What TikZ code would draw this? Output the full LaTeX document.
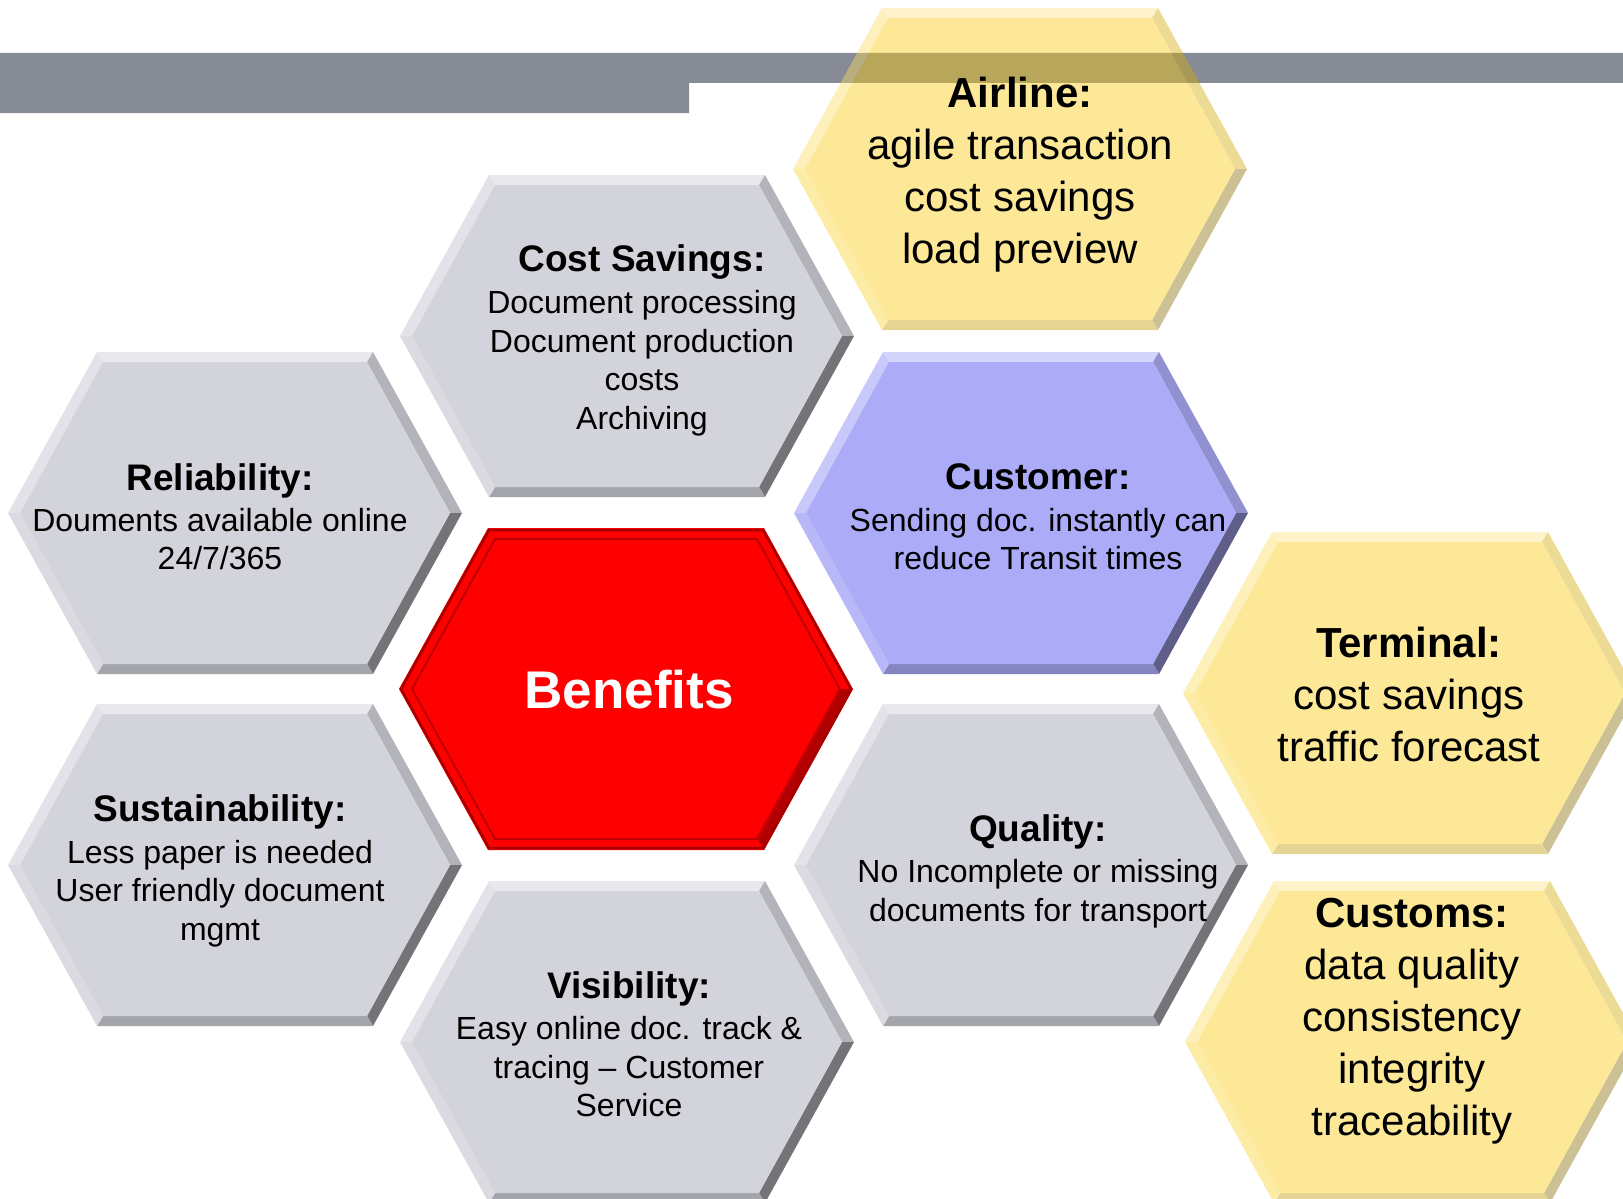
\documentclass[tikz,border=0pt]{standalone}
\usepackage{fontspec}
\setmainfont{Liberation Sans}
\definecolor{barGray}{RGB}{135,139,150}
\definecolor{cellGray}{RGB}{211,211,219}
\definecolor{cellBlue}{RGB}{171,171,247}
\definecolor{cellRed}{RGB}{255,0,0}
\definecolor{cellGold}{RGB}{249,202,12}
\tikzset{
  cell/.style={align=center, inner sep=0pt, font=\fontsize{32}{38.5}\selectfont},
  bigcell/.style={align=center, inner sep=0pt, font=\fontsize{42}{52}\selectfont},
}
\newcommand{\celltitle}[1]{{\fontsize{37}{42}\selectfont\bfseries #1}}
\begin{document}
\begin{tikzpicture}[x=1pt,y=-1pt]
\useasboundingbox (0,0) rectangle (1623,1199);
\clip (0,0) rectangle (1623,1199);
\fill[barGray] (0,53) -- (1623,53) -- (1623,83) -- (689,83) -- (689,113) -- (0,113) -- cycle;
\foreach \cx/\cy/\c/\op in {235/513/cellGray/1, 235/865/cellGray/1, 627/336/cellGray/1,
    627/1042/cellGray/1, 1020/169/cellGold/0.43, 1021/513/cellBlue/1,
    1021/865/cellGray/1, 1410/693/cellGold/0.43, 1412/1042/cellGold/0.43}
{
  \begin{scope}[shift={(\cx,\cy)}, transparency group, opacity=\op]
    \fill[\c!50!white] (-138,-161) -- (138,-161) -- (132,-151) -- (-132,-151) -- cycle;
    \fill[\c!65!white] (-227,0) -- (-138,-161) -- (-132,-151) -- (-215,0) -- cycle;
    \fill[\c!85!black] (138,-161) -- (227,0) -- (215,0) -- (132,-151) -- cycle;
    \fill[\c!55!black] (227,0) -- (138,161) -- (132,151) -- (215,0) -- cycle;
    \fill[\c!78!black] (138,161) -- (-138,161) -- (-132,151) -- (132,151) -- cycle;
    \fill[\c!85!white] (-138,161) -- (-227,0) -- (-215,0) -- (-132,151) -- cycle;
    \fill[\c] (-215,0) -- (-132,-151) -- (132,-151) -- (215,0) -- (132,151) -- (-132,151) -- cycle;
  \end{scope}
}
\begin{scope}[shift={(626,689)}]
  \fill[cellRed] (-227,0) -- (-138,-161) -- (138,-161) -- (227,0) -- (138,161) -- (-138,161) -- cycle;
  \fill[cellRed!70!black] (227,0) -- (138,161) -- (132,151) -- (215,0) -- cycle;
  \draw[cellRed!65!black, line width=2.5] (-225,0) -- (-137,-159) -- (137,-159) -- (225,0) -- (137,159) -- (-137,159) -- cycle;
  \draw[cellRed!75!black, line width=2] (-214,0) -- (-131,-150) -- (131,-150) -- (214,0) -- (131,150) -- (-131,150) -- cycle;
\end{scope}
\node[cell] (reliability) at (220,517) {\celltitle{Reliability:}\\[2pt] Douments available online\\ 24/7/365};
\node[cell] (sustainability) at (220,871) {\celltitle{Sustainability:}\\[3pt] Less paper is needed\\ User friendly document\\ mgmt};
\node[cell] (costsavings) at (642,340) {\celltitle{Cost Savings:}\\[4pt] Document processing\\ Document production\\ costs\\ Archiving};
\node[text=white, font=\fontsize{53}{60}\selectfont\bfseries, inner sep=0pt] (benefits) at (629,690) {Benefits};
\node[cell] (visibility) at (629,1044) {\celltitle{Visibility:}\\[3pt] Easy online doc. track \&\\ tracing – Customer\\ Service};
\node[cell] (customer) at (1038,517) {\celltitle{Customer:}\\[3pt] Sending doc. instantly can\\ reduce Transit times};
\node[cell] (quality) at (1038,871) {\celltitle{Quality:}\\[3pt] No Incomplete or missing\\ documents for transport};
\node[bigcell] (airline) at (1020,175) {\textbf{Airline:}\\ agile transaction\\ cost savings\\ load preview};
\node[bigcell] (terminal) at (1409,694) {\textbf{Terminal:}\\ cost savings\\ traffic forecast};
\node[bigcell] (customs) at (1412,1021) {\textbf{Customs:}\\ data quality\\ consistency\\ integrity\\ traceability};
\end{tikzpicture}
\end{document}
